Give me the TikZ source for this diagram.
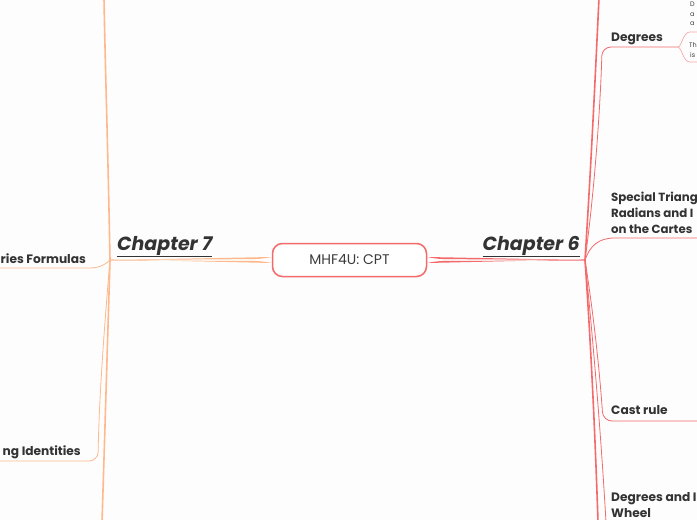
\documentclass[tikz,border=0pt]{standalone}
\usepackage{fontspec}
\setmainfont{Poppins}
\usetikzlibrary{positioning, calc}
\usepackage{xcolor}
\definecolor{mmred}{HTML}{F46A6A}
\definecolor{mmpink}{HTML}{F8A8A8}
\definecolor{mmorange}{HTML}{FFB98C}
\definecolor{mmtext}{HTML}{333333}
\definecolor{mmgray}{HTML}{3C3C3C}
\definecolor{mmpaper}{HTML}{FDFDFD}

\tikzset{
  topic/.style={anchor=base west, text=mmtext, font=\bfseries\fontsize{12.2}{16}\selectfont, inner sep=0pt, align=left},
  chapter/.style={text=mmtext, font=\bfseries\itshape\fontsize{19}{22}\selectfont, inner sep=0pt},
  note/.style={anchor=base west, text=mmgray, font=\fontsize{6.5}{9}\selectfont, inner sep=0pt},
  redline/.style={draw=mmred, line width=0.8pt},
  orline/.style={draw=mmorange, line width=0.8pt}
}

\begin{document}
\begin{tikzpicture}[x=1pt, y=-1pt]
      \fill[mmpaper] (0,0) rectangle (697,520);
      \useasboundingbox (0,0) rectangle (697,520);
      \clip (0,0) rectangle (697,520);
      % Junctions of the two chapters
      \coordinate (j6) at (585,260);
      \coordinate (j7) at (110,260);
      % Central topic
      \node[rounded corners=10pt, draw=mmred, line width=1.5pt, fill=white,
            minimum width=154pt, minimum height=33pt, text=mmgray,
            font=\fontsize{14}{16}\selectfont] (root) at (349.5,260) {MHF4U: CPT};
      % Chapters
      \node[chapter, anchor=base east] (ch6) at (580,250) {\underline{Chapter 6}};
      \node[chapter, anchor=base west] (ch7) at (117,250) {\underline{Chapter 7}};
      \fill[mmred] (root.east) ++(0,-3) .. controls (438,259.1) .. (460,259.2)
            -- (j6) ++(0,-0.6) -- ++(0,1.2) -- (460,260.8)
            .. controls (438,260.9) .. ($(root.east)+(0,3)$) -- cycle;
      \fill[mmorange] (root.west) ++(0,-3) .. controls (260,259.1) .. (238,259.2)
            -- (j7) ++(0,-0.6) -- ++(0,1.2) -- (238,260.8)
            .. controls (260,260.9) .. ($(root.west)+(0,3)$) -- cycle;
      % Chapter 6 topics
      \node[topic] (deg) at (611,41) {Degrees};
      \node[topic, font=\bfseries\fontsize{11.8}{16}\selectfont] (spec) at (611,233)
            {Special Triang\\Radians and I\\on the Cartes};
      \node[topic] (cast) at (611,414) {Cast rule};
      \node[topic] (wheel) at (611,517) {Degrees and I\\Wheel};
      \draw[redline, line width=1.6pt] (j6) .. controls (592,150) and (596,60) .. (599,-2);
      \draw[redline, line width=1.6pt] (j6) .. controls (592,360) and (596,460) .. (598,522);
      \draw[redline, rounded corners=9pt] (j6) .. controls (596,180) and (601,90) .. (602,47) -- (678,47);
      \draw[redline] (j6) .. controls (590,246) and (598,238) .. (615,238) -- (697,238);
      \draw[redline, rounded corners=9pt] (j6) .. controls (596,330) and (601,390) .. (603,421) -- (697,421);
      \draw[redline] (j6) .. controls (597,380) and (603,470) .. (606,522);
      % Notes under Degrees
      \draw[mmpink, line width=0.7pt] (678,47) .. controls (682,46) and (683,32) .. (690,32) -- (697,32);
      \draw[mmpink, line width=0.7pt] (678,47) .. controls (682,48) and (683,62) .. (690,62) -- (697,62);
      \node[note] (n1) at (690,6) {D};
      \node[note] (n2) at (690,16) {a};
      \node[note] (n3) at (690,25) {a};
      \node[note] (n4) at (689,47) {Th};
      \node[note] (n5) at (690,57) {is};
      % Chapter 7 topics
      \node[topic] (form) at (0.5,263) {ries Formulas};
      \node[topic, anchor=base east] (ident) at (81,455) {ng Identities};
      \draw[orline, line width=1.6pt] (j7) .. controls (108,150) and (105,60) .. (104,-2);
      \draw[orline, line width=1.6pt] (j7) .. controls (107,360) and (104,460) .. (102,522);
      \draw[orline] (j7) .. controls (104,266) and (98,268) .. (88,268) -- (-2,268);
      \draw[orline, rounded corners=9pt] (j7) .. controls (104,330) and (99,400) .. (98,461) -- (-2,461);
    \end{tikzpicture}
\end{document}
